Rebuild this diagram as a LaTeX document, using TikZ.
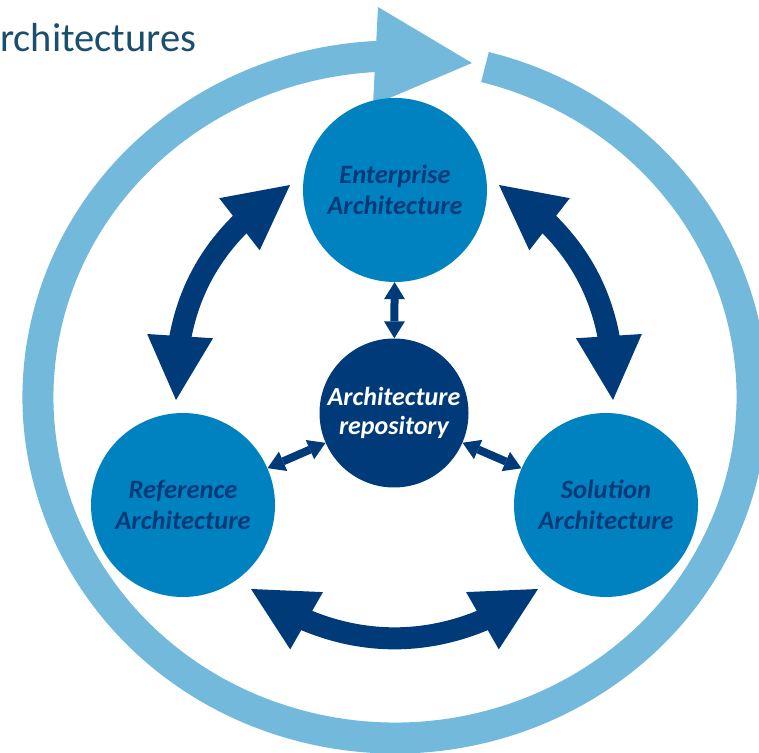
\documentclass[tikz,border=0pt]{standalone}
\usepackage{fontspec}
\setmainfont{Carlito}
\usetikzlibrary{arrows.meta,bending}

\definecolor{ringblue}{RGB}{114,185,220}
\definecolor{midblue}{RGB}{0,130,192}
\definecolor{navy}{RGB}{0,58,120}
\definecolor{titleblue}{RGB}{25,78,110}

\tikzset{
  archcircle/.style={circle, fill=midblue, minimum size=184pt, inner sep=0pt, text=navy, align=center, font=\fontsize{26.5}{31}\selectfont\bfseries\itshape},
  repocircle/.style={circle, fill=navy, minimum size=149pt, inner sep=0pt, text=white, align=center, font=\fontsize{26}{29}\selectfont\bfseries\itshape},
  bigarrow/.style={draw=navy, line width=22pt, {Triangle[length=64pt,width=66pt,line width=0pt]}-{Triangle[length=64pt,width=66pt,line width=0pt]}},
  smallarrow/.style={draw=navy, line width=8pt, {Triangle[length=17pt,width=21pt,line width=0pt]}-{Triangle[length=17pt,width=21pt,line width=0pt]}},
}

\begin{document}
\begin{tikzpicture}[x=1pt,y=1pt]
        \useasboundingbox (0,0) rectangle (759,752);
        \clip (0,0) rectangle (759,752);
        % title
        \node[anchor=base west, inner sep=0pt, text=titleblue, font=\fontsize{40.5}{48}\selectfont] (title) at (0,700) {rchitectures};
        % outer cycle
        \draw[ringblue, line width=31pt] (395,355) ++(75.4:357 and 341) arc[start angle=75.4, end angle=-268, x radius=357, y radius=341];
        \fill[ringblue] (378,745) -- (472,689) -- (373,647) -- cycle;
        % circles
        \node[archcircle] (ent) at (395,562) {Enterprise\\Architecture};
        \node[archcircle] (ref) at (183,247) {Reference\\Architecture};
        \node[archcircle] (sol) at (606,247) {Solution\\Architecture};
        \node[repocircle] (repo) at (394,339) {Architecture\\repository};
        % links to the repository
        \draw[smallarrow] (repo) -- (ent);
        \draw[smallarrow] (repo) -- (ref);
        \draw[smallarrow] (repo) -- (sol);
        % arrows between the architectures
        \coordinate (a1) at (290,567);
        \coordinate (a2) at (176,352);
        \coordinate (b1) at (499,567);
        \coordinate (b2) at (613,352);
        \coordinate (c1) at (251,163);
        \coordinate (c2) at (538,163);
        \draw[bigarrow] (a1) to[bend right=30] (a2);
        \draw[bigarrow] (b1) to[bend left=30] (b2);
        \draw[bigarrow] (c1) to[bend right=36] (c2);
\end{tikzpicture}
\end{document}
